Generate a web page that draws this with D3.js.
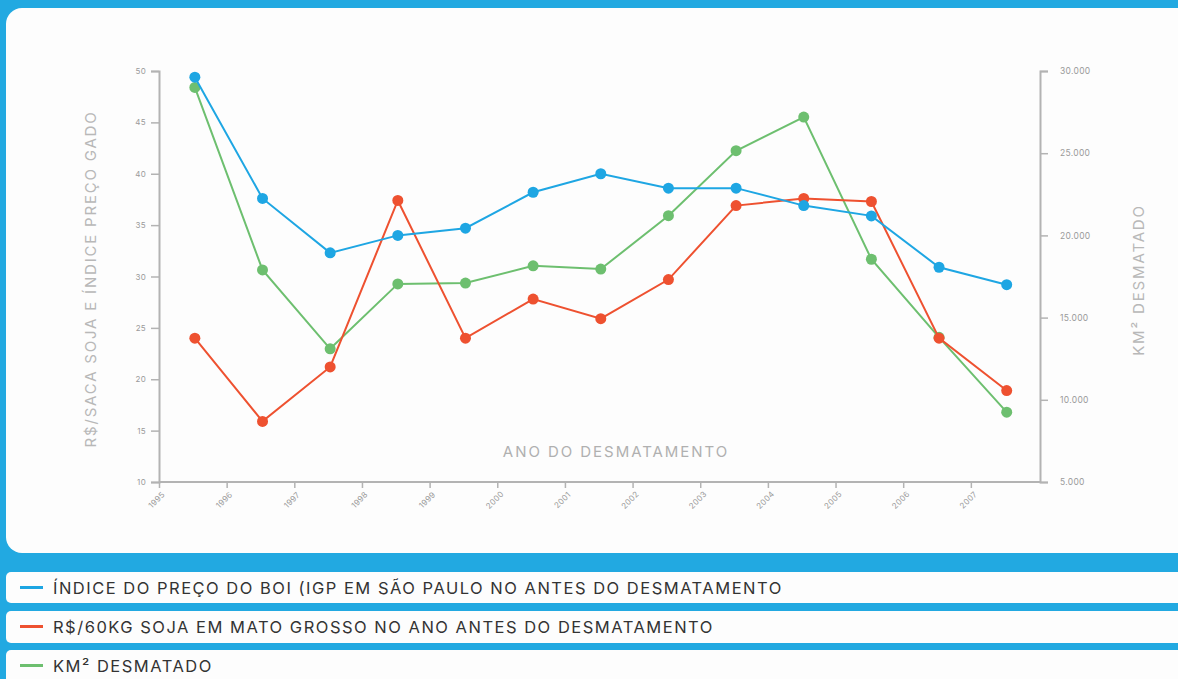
<!DOCTYPE html>
<html><head><meta charset="utf-8">
<script src="https://cdn.jsdelivr.net/npm/d3@7"></script>
<style>
html,body{margin:0;padding:0;background:#22a9e1;}
svg{display:block;}
text{font-family:Inter,"Noto Sans",sans-serif;}
</style></head>
<body>
<svg id="c" width="1178" height="679"></svg>
<script>
const years = [1995,1996,1997,1998,1999,2000,2001,2002,2003,2004,2005,2006,2007];
const boi   = [49.4,37.6,32.3,34.0,34.7,38.2,40.0,38.6,38.6,36.9,35.9,30.9,29.2];
const soja  = [24.0,15.9,21.2,37.4,24.0,27.8,25.9,29.7,36.9,37.6,37.3,24.0,18.9];
const desm  = [29000,17900,13100,17050,17100,18150,17950,21200,25150,27200,18550,13800,9250];
const leftTicks  = [10,15,20,25,30,35,40,45,50];
const rightTicks = [5000,10000,15000,20000,25000,30000];
const xTickYears = [1995,1996,1997,1998,1999,2000,2001,2002,2003,2004,2005,2006,2007];
const legendLabels = [
  "ÍNDICE DO PREÇO DO BOI (IGP EM SÃO PAULO NO ANTES DO DESMATAMENTO",
  "R$/60KG SOJA EM MATO GROSSO NO ANO ANTES DO DESMATAMENTO",
  "KM² DESMATADO"
];
const colors = ["#1ea6e3","#ee5130","#6dbf6f"];
const leftTitle = "R$/SACA SOJA E ÍNDICE PREÇO GADO";
const rightTitle = "KM² DESMATADO";
const xTitle = "ANO DO DESMATAMENTO";

const svg = d3.select("#c");
svg.append("rect").attr("x",6).attr("y",8).attr("width",1190).attr("height",545)
  .attr("rx",16).attr("fill","#fdfdfd");

const x = d3.scaleLinear().domain([1995,2008]).range([159,1038.5]);
const yL = d3.scaleLinear().domain([10,50]).range([482,71]);
const yR = d3.scaleLinear().domain([5000,30000]).range([482,71]);
const px = d => x(d + 0.53);

const axisCol = "#b3b3b3", tickTxt = "#9a9a9a";

const gL = svg.append("g").attr("transform","translate(159,0)")
  .call(d3.axisLeft(yL).tickValues(leftTicks).tickSize(8).tickPadding(5).tickFormat(d3.format("d")));
const gR = svg.append("g").attr("transform","translate(1040,0)")
  .call(d3.axisRight(yR).tickValues(rightTicks).tickSize(8).tickPadding(12)
    .tickFormat(d => (d/1000).toFixed(3)));
const gX = svg.append("g").attr("transform","translate(0,482)")
  .call(d3.axisBottom(x).tickValues(xTickYears).tickSize(6).tickFormat(d3.format("d")));
gX.select(".domain").attr("d","M159,0H1040");
gX.selectAll(".tick text").attr("text-anchor","middle").attr("dy",null).attr("y",null)
  .attr("transform","translate(-1,20) rotate(-45)");

[gL,gR,gX].forEach(g=>{
  g.select(".domain").attr("stroke",axisCol).attr("stroke-width",2);
  g.selectAll(".tick line").attr("stroke",axisCol).attr("stroke-width",1.5);
  g.selectAll(".tick text").attr("fill",tickTxt).attr("font-size",8).attr("font-family","Inter,sans-serif")
    .attr("letter-spacing",0.3);
});
gR.selectAll(".tick text").attr("font-size",8.5);

svg.append("text").attr("transform","translate(96,279) rotate(-90)").attr("text-anchor","middle")
  .attr("fill","#b8b8b8").attr("font-size",15).attr("letter-spacing",1.8).text(leftTitle);
svg.append("text").attr("transform","translate(1144,280) rotate(-90)").attr("text-anchor","middle")
  .attr("fill","#b8b8b8").attr("font-size",15).attr("letter-spacing",1.85).text(rightTitle);
svg.append("text").attr("x",616).attr("y",457).attr("text-anchor","middle")
  .attr("fill","#b0b0b0").attr("font-size",15).attr("letter-spacing",1.95).text(xTitle);

const series = [
  {vals: boi, y: yL, c: colors[0]},
  {vals: soja, y: yL, c: colors[1]},
  {vals: desm, y: yR, c: colors[2]}
];
[series[2], series[1], series[0]].forEach(s=>{
  const data = years.map((yr,i)=>({yr, v:s.vals[i]}));
  svg.append("path").datum(data).attr("fill","none").attr("stroke",s.c).attr("stroke-width",2)
    .attr("d", d3.line().x(d=>px(d.yr)).y(d=>s.y(d.v)));
  svg.append("g").selectAll("circle").data(data).join("circle")
    .attr("cx",d=>px(d.yr)).attr("cy",d=>s.y(d.v)).attr("r",5.5).attr("fill",s.c);
});

const rowsY = [572,611,650];
const rowsH = [31,32,40];
legendLabels.forEach((lab,i)=>{
  const g = svg.append("g");
  g.append("rect").attr("x",6).attr("y",rowsY[i]).attr("width",1190).attr("height",rowsH[i])
    .attr("rx",5).attr("fill","#fdfdfd");
  const cy = rowsY[i] + 15.5;
  g.append("line").attr("x1",20).attr("x2",43).attr("y1",cy).attr("y2",cy)
    .attr("stroke",colors[i]).attr("stroke-width",3);
  g.append("text").attr("x",53).attr("y",cy+6).attr("fill","#333").attr("font-size",16.5)
    .attr("letter-spacing",1.5).text(lab);
});
</script>
</body></html>
